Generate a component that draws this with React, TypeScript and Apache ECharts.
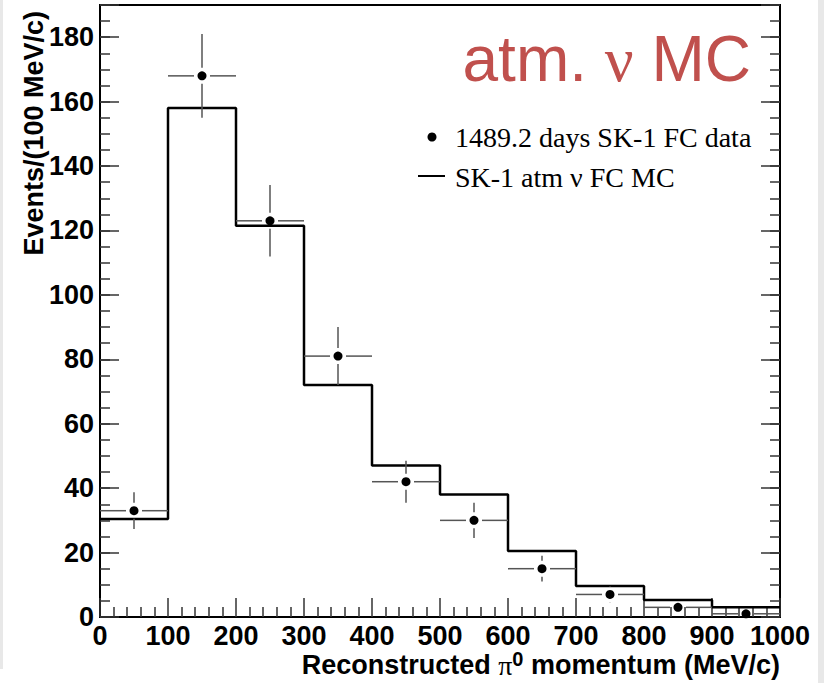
import React, { useEffect, useRef } from "react";
import * as echarts from "echarts";

// Bin edges of the momentum histogram (MeV/c)
const binEdges = [0, 100, 200, 300, 400, 500, 600, 700, 800, 900, 1000];
// Bin centres for the data points
const binCenters = [50, 150, 250, 350, 450, 550, 650, 750, 850, 950];
// 1489.2 days SK-1 FC data (events per bin)
const dataCounts = [33, 168, 123, 81, 42, 30, 15, 7, 3, 1];
// Statistical errors
const dataErrors = [5.7, 13, 11.1, 9, 6.5, 5.5, 4, 2.6, 1.7, 1];
// SK-1 atm nu FC MC (events per bin)
const mcCounts = [30.4, 158, 121.5, 72, 47, 38, 20.5, 9.6, 5.3, 3.0];

const Y_MIN = 0;
const Y_MAX = 190;
const X_MIN = 0;
const X_MAX = 1000;

const FONT = "'Liberation Sans', Arial, Helvetica, sans-serif";
const SERIF = "'Liberation Serif', 'Times New Roman', serif";

export default function App() {
  const ref = useRef<HTMLDivElement>(null);

  useEffect(() => {
    if (!ref.current) return;
    const chart = echarts.init(ref.current, undefined, { renderer: "svg" });

    const tickStyle = { color: "#333", width: 1.5 };
    const labelStyle = {
      fontSize: 27,
      fontWeight: "bold" as const,
      color: "#000",
      fontFamily: FONT,
    };

    const yAxisBase = (pos: "left" | "right", major: boolean, labels: boolean) => ({
      type: "value" as const,
      min: Y_MIN,
      max: Y_MAX,
      interval: major ? 20 : 5,
      position: pos,
      axisLine: { show: false },
      splitLine: { show: false },
      axisTick: { show: true, inside: true, length: major ? 19 : 10, lineStyle: tickStyle },
      axisLabel: labels
        ? {
            show: true,
            ...labelStyle,
            margin: 6,
            formatter: (v: number) => (v === Y_MAX ? "" : String(v)),
          }
        : { show: false },
    });

    const mcLine = binEdges.map((e, i) => [e, i < mcCounts.length ? mcCounts[i] : mcCounts[mcCounts.length - 1]]);
    const points = binCenters.map((c, i) => [c, dataCounts[i]]);
    const errBars = binCenters.map((c, i) => [c, dataCounts[i], dataErrors[i], binEdges[i], binEdges[i + 1]]);

    chart.setOption({
      animation: false,
      backgroundColor: "#fff",
      grid: {
        left: 100,
        top: 5,
        right: 44,
        bottom: 66,
        show: true,
        borderColor: "#000",
        borderWidth: 2,
        backgroundColor: "transparent",
        containLabel: false,
        outerBoundsMode: "none",
      },
      xAxis: [
        {
          type: "value",
          min: X_MIN,
          max: X_MAX,
          interval: 100,
          position: "bottom",
          axisLine: { show: false },
          splitLine: { show: false },
          axisTick: { show: true, inside: true, length: 19, lineStyle: tickStyle },
          minorTick: { show: true, splitNumber: 5, length: 10, lineStyle: tickStyle },
          minorSplitLine: { show: false },
          axisLabel: { ...labelStyle, margin: 9, lineHeight: 20, formatter: (v: number) => String(v) },
          name: "Reconstructed {pi|π}{sup|0} momentum (MeV/c)",
          nameLocation: "end",
          nameGap: 0,
          nameMoveOverlap: false,
          nameTextStyle: {
            ...labelStyle,
            align: "right",
            verticalAlign: "top",
            padding: [32, 0, 0, 0],
            rich: {
              pi: { fontSize: 28, fontFamily: SERIF, color: "#000", fontWeight: "normal" },
              sup: {
                fontSize: 20,
                fontFamily: FONT,
                fontWeight: "bold",
                color: "#000",
                verticalAlign: "top",
                padding: [0, 0, 12, 0],
              },
            },
          },
        },
      ],
      yAxis: [
        {
          ...yAxisBase("left", true, true),
          name: "Events/(100 MeV/c)",
          nameLocation: "end",
          nameRotate: 90,
          nameGap: -6,
          nameMoveOverlap: false,
          nameTextStyle: {
            ...labelStyle,
            align: "right",
            verticalAlign: "bottom",
            padding: [0, 0, 53, 0],
          },
        },
        yAxisBase("left", false, false),
        yAxisBase("right", true, false),
        yAxisBase("right", false, false),
      ],
      series: [
        {
          name: "SK-1 atm ν FC MC",
          type: "line",
          step: "end",
          data: mcLine,
          symbol: "none",
          lineStyle: { color: "#000", width: 2.5 },
          z: 3,
        },
        {
          name: "error bars",
          type: "custom",
          data: errBars,
          encode: { x: 0, y: 1 },
          z: 4,
          renderItem: (_params: any, api: any) => {
            const x = api.value(0);
            const y = api.value(1);
            const e = api.value(2);
            const lo = api.value(3);
            const hi = api.value(4);
            const c = api.coord([x, y]);
            const top = api.coord([x, y + e]);
            const bot = api.coord([x, Math.max(y - e, Y_MIN)]);
            const l = api.coord([lo, y]);
            const r = api.coord([hi, y]);
            const gap = 8;
            const style = { stroke: "#555", lineWidth: 1.5 };
            const children: any[] = [];
            if (top[1] < c[1] - gap)
              children.push({ type: "line", shape: { x1: c[0], y1: top[1], x2: c[0], y2: c[1] - gap }, style });
            if (bot[1] > c[1] + gap)
              children.push({ type: "line", shape: { x1: c[0], y1: c[1] + gap, x2: c[0], y2: bot[1] }, style });
            children.push({ type: "line", shape: { x1: l[0], y1: c[1], x2: c[0] - gap, y2: c[1] }, style });
            children.push({ type: "line", shape: { x1: c[0] + gap, y1: c[1], x2: r[0], y2: c[1] }, style });
            return { type: "group", children };
          },
        },
        {
          name: "1489.2 days SK-1 FC data",
          type: "scatter",
          data: points,
          symbol: "circle",
          symbolSize: 9,
          itemStyle: { color: "#000", opacity: 1 },
          z: 5,
        },
      ],
      graphic: [
        {
          type: "text",
          right: 73,
          top: 27,
          style: {
            text: "atm. {nu|ν} MC",
            fontSize: 64,
            fontFamily: FONT,
            fill: "#c0504d",
            rich: {
              nu: { fontSize: 64, fontFamily: SERIF, fill: "#c0504d", color: "#c0504d" },
            },
          },
        },
        {
          type: "circle",
          shape: { cx: 432, cy: 137, r: 4.5 },
          style: { fill: "#000" },
        },
        {
          type: "text",
          x: 455,
          y: 137,
          style: {
            text: "1489.2 days SK-1 FC data",
            fontSize: 28,
            fontFamily: SERIF,
            fill: "#000",
            verticalAlign: "middle",
            align: "left",
          },
        },
        {
          type: "line",
          shape: { x1: 418, y1: 176, x2: 445, y2: 176 },
          style: { stroke: "#000", lineWidth: 2 },
        },
        {
          type: "text",
          x: 455,
          y: 177,
          style: {
            text: "SK-1 atm ν FC MC",
            fontSize: 28,
            fontFamily: SERIF,
            fill: "#000",
            verticalAlign: "middle",
            align: "left",
          },
        },
      ],
    });

    return () => chart.dispose();
  }, []);

  return (
    <div style={{ position: "fixed", left: 0, top: 0, width: 824, height: 683, background: "#fff" }}>
      <div ref={ref} style={{ position: "absolute", left: 0, top: 0, width: 824, height: 683 }} />
      <div
        style={{ position: "absolute", left: 0, top: 0, width: 3, height: 669, background: "#e8e8e8", pointerEvents: "none" }}
      />
      <div
        style={{ position: "absolute", left: 818, top: 0, width: 6, height: 683, background: "#e8e8e8", pointerEvents: "none" }}
      />
    </div>
  );
}
